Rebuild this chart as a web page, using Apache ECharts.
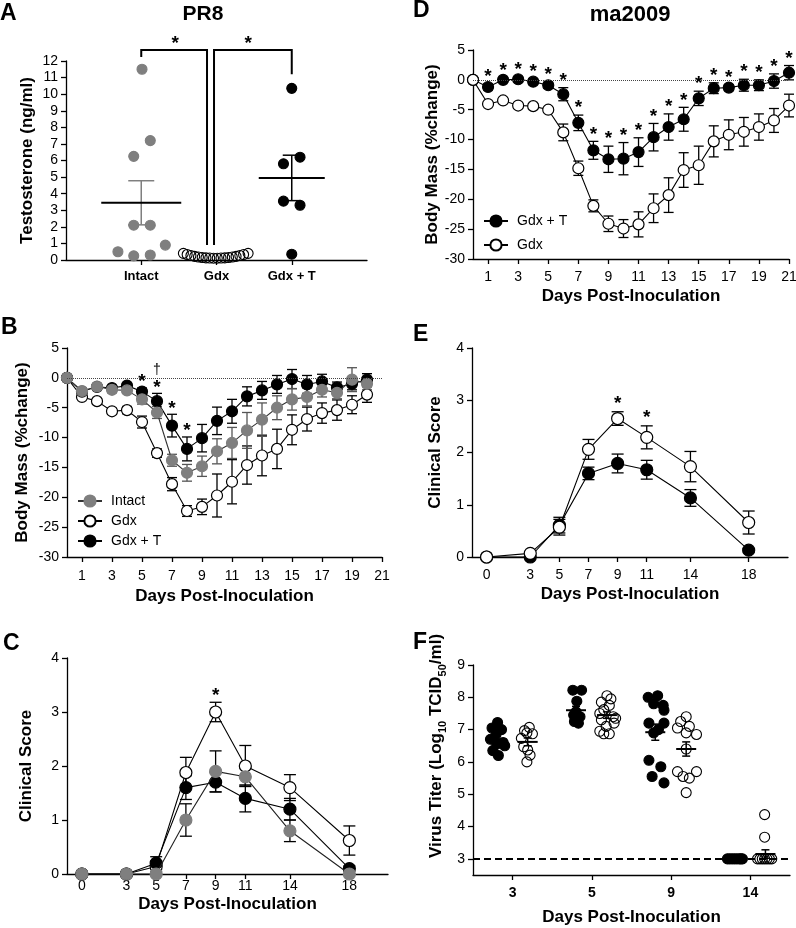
<!DOCTYPE html>
<html><head><meta charset="utf-8">
<script src="https://cdn.jsdelivr.net/npm/echarts@6/dist/echarts.min.js"></script>
<style>html,body{margin:0;padding:0;background:#fff;overflow:hidden}#c{width:796px;height:928px}</style>
</head><body><div id="c"></div>
<script>
// ---------------- DATA ----------------
// Panel A (PR8 testosterone)
const aCategories = ['Intact', 'Gdx', 'Gdx + T'];
const aIntact = [11.5, 7.2, 6.25, 2.1, 2.1, 0.5, 0.25, 0.3, 0.9];
const aIntactJitter = [0.01, 0.12, -0.1, -0.1, 0.12, -0.31, -0.1, 0.12, 0.32];
const aGdx = [0.4, 0.33, 0.27, 0.22, 0.18, 0.15, 0.13, 0.12, 0.11, 0.11, 0.12, 0.13, 0.15, 0.18, 0.22, 0.27, 0.33, 0.4];
const aGdxJitter = [-0.44, -0.39, -0.34, -0.29, -0.24, -0.19, -0.14, -0.09, -0.04, 0.01, 0.06, 0.11, 0.16, 0.21, 0.26, 0.31, 0.36, 0.42];
const aGdxT = [10.35, 5.8, 6.2, 3.55, 3.3, 0.35];
const aGdxTJitter = [0, -0.11, 0.11, -0.11, 0.11, 0];
const aMeanIntact = 3.45, aSemIntact = 1.33;
const aMeanGdxT = 4.95, aSemGdxT = 1.37;
const aBracketX1 = [1, 1.967], aBracketX2 = [1.874, 3];
const aBracketTop = 12.66, aBracketDrop1 = [12.24, 0.9], aBracketDrop2 = [0.9, 11.2];
const aStarX = [1.45, 2.42], aStarY = 13.27;

// Panel B (PR8 body mass)
const bDays = [0,1,2,3,4,5,6,7,8,9,10,11,12,13,14,15,16,17,18,19,20];
const bIntact = [0,-2.2,-1.45,-2.0,-2.1,-3.6,-5.8,-13.8,-15.9,-14.8,-12.3,-10.9,-8.8,-7.0,-5.0,-3.6,-3.2,-2.0,-2.5,-0.3,-1.0];
const bIntactErr = [0,0.5,0.5,0.5,0.5,0.8,1.0,1.0,1.4,1.7,2.1,2.6,3.0,2.8,2.0,1.8,1.5,1.2,1.0,2.0,1.0];
const bGdx = [0,-3.2,-3.9,-5.6,-5.4,-7.4,-12.6,-17.8,-22.3,-21.6,-19.7,-17.4,-14.6,-13.0,-11.9,-8.7,-6.9,-5.9,-5.4,-4.5,-2.8];
const bGdxErr = [0,0.4,0.4,0.5,0.6,1.0,0.7,1.1,0.9,1.3,3.6,3.7,3.2,3.4,3.3,2.5,2.0,1.7,1.7,1.5,1.3];
const bGdxT = [0,-2.3,-1.5,-1.7,-1.3,-2.3,-3.9,-8.0,-11.9,-10.1,-7.2,-5.6,-3.1,-2.1,-1.1,-0.2,-1.1,-0.6,-1.6,-1.0,-0.3];
const bGdxTErr = [0,0.4,0.4,0.4,0.4,0.6,1.3,1.9,2.0,2.3,2.3,2.0,1.6,1.5,1.5,1.6,1.5,1.2,0.9,1.0,1.0];
const bTicks = [1,3,5,7,9,11,13,15,17,19,21];
const bStarDays = [5,6,7,8];
const bDaggerDays = [6];

// Panel C (PR8 clinical score)
const cDays = [0,3,5,7,9,11,14,18];
const cIntact = [0,0,0,1.0,1.9,1.8,0.8,0];
const cIntactErr = [0,0,0,0.3,0.38,0.17,0.2,0];
const cGdx = [0,0,0.14,1.88,3.0,2.0,1.6,0.62];
const cGdxErr = [0,0,0.1,0.28,0.18,0.38,0.24,0.27];
const cGdxT = [0,0,0.2,1.6,1.7,1.4,1.2,0.1];
const cGdxTErr = [0,0,0.12,0.22,0.18,0.25,0.2,0.05];
const cStarDays = [9];

// Panel D (ma2009 body mass)
const dDays = [0,1,2,3,4,5,6,7,8,9,10,11,12,13,14,15,16,17,18,19,20,21];
const dGdxT = [0,-1.2,0,0.1,-0.3,-0.9,-2.4,-7.2,-11.8,-13.3,-13.2,-12.1,-9.6,-7.9,-6.6,-3.1,-1.4,-1.3,-0.9,-0.9,-0.2,1.2];
const dGdxTErr = [0,0.5,0.4,0.4,0.5,0.5,1.1,1.3,1.5,2.2,2.7,2.4,2.3,2.2,2.0,1.2,0.9,0.5,1.0,0.9,1.2,1.2];
const dGdx = [0,-4.05,-3.45,-4.3,-4.4,-5.0,-8.8,-14.8,-21.1,-24.1,-24.9,-24.2,-21.5,-19.3,-15.1,-14.3,-10.3,-9.2,-8.7,-7.9,-6.8,-4.3];
const dGdxErr = [0,0.3,0.3,0.4,0.4,0.4,1.4,1.2,1.0,1.3,1.5,2.1,2.4,2.9,2.9,3.2,2.6,2.5,2.4,2.2,2.0,1.9];
const dTicks = [1,3,5,7,9,11,13,15,17,19,21];
const dStarDays = [1,2,3,4,5,6,7,8,9,10,11,12,13,14,15,16,17,18,19,20,21];

// Panel E (ma2009 clinical score)
const eDays = [0,3,5,7,9,11,14,18];
const eGdx = [0,0.07,0.57,2.06,2.65,2.29,1.73,0.66];
const eGdxErr = [0,0,0.15,0.19,0.13,0.22,0.29,0.22];
const eGdxT = [0,0,0.61,1.6,1.79,1.67,1.13,0.13];
const eGdxTErr = [0,0,0.15,0.12,0.18,0.18,0.16,0.03];
const eStarDays = [9, 11];

// Panel F (virus titer)
const fDays = ['3', '5', '9', '14'];
const fGdxT = [
  [7.22, 7.05, 7.0, 6.85, 6.7, 6.6, 6.55, 6.5, 6.35, 6.2],
  [8.22, 8.22, 7.88, 7.55, 7.45, 7.4, 7.3, 7.25, 7.2],
  [8.05, 8.0, 7.8, 7.75, 7.6, 7.2, 7.2, 7.0, 6.9, 6.05, 5.85, 5.55, 5.35],
  [3, 3, 3, 3, 3, 3, 3, 3]
];
const fGdxTJitter = [
  [-0.19, -0.26, -0.14, -0.21, -0.28, -0.12, -0.2, -0.1, -0.25, -0.18],
  [-0.24, -0.13, -0.19, -0.2, -0.23, -0.15, -0.19, -0.22, -0.17],
  [-0.17, -0.29, -0.22, -0.1, -0.09, -0.28, -0.09, -0.16, -0.22, -0.28, -0.13, -0.24, -0.09],
  [-0.29, -0.26, -0.23, -0.2, -0.17, -0.14, -0.12, -0.1]
];
const fGdx = [
  [7.07, 6.97, 6.9, 6.87, 6.73, 6.47, 6.37, 6.21, 6.0],
  [8.05, 7.95, 7.85, 7.75, 7.62, 7.5, 7.4, 7.35, 7.3, 7.2, 7.1, 6.95, 6.87, 6.87],
  [7.4, 7.25, 7.1, 7.05, 6.9, 6.85, 6.4, 5.7, 5.7, 5.55, 5.5, 5.05],
  [4.37, 3.67, 3, 3, 3, 3, 3, 3, 3]
];
const fGdxJitter = [
  [0.21, 0.15, 0.18, 0.25, 0.11, 0.14, 0.19, 0.22, 0.18],
  [0.19, 0.24, 0.12, 0.22, 0.15, 0.1, 0.27, 0.3, 0.12, 0.28, 0.18, 0.1, 0.15, 0.22],
  [0.19, 0.12, 0.23, 0.08, 0.19, 0.32, 0.19, 0.08, 0.32, 0.15, 0.23, 0.19],
  [0.18, 0.18, 0.09, 0.12, 0.15, 0.18, 0.21, 0.24, 0.27]
];
const fGdxTMean = [6.7, 7.6, 6.92, 3.0], fGdxTSem = [0.1, 0.12, 0.25, 0];
const fGdxMean = [6.62, 7.45, 6.4, 3.15], fGdxSem = [0.12, 0.1, 0.22, 0.13];
const fLimit = 3;
const fYTicks = [3, 4, 5, 6, 7, 8, 9];

// ---------------- STYLE / HELPERS ----------------
const FONT = '"Liberation Sans", Arial, Helvetica, sans-serif';
const GRAY = '#7f7f7f';
const chart = echarts.init(document.getElementById('c'), null, {renderer: 'canvas'});

function xAx(grid, o) {
  return Object.assign({
    gridIndex: grid, type: 'value',
    axisLine: {show: true, onZero: false, lineStyle: {color: '#000', width: 1.3}},
    axisTick: {show: true, length: 5, lineStyle: {color: '#000', width: 1.3}},
    splitLine: {show: false},
    nameLocation: 'middle',
    nameTextStyle: {color: '#000', fontFamily: FONT, fontSize: 17, fontWeight: 'bold'}
  }, o);
}
function yAx(grid, o) {
  return Object.assign({
    gridIndex: grid, type: 'value',
    axisLine: {show: true, onZero: false, lineStyle: {color: '#000', width: 1.3}},
    axisTick: {show: true, length: 5, lineStyle: {color: '#000', width: 1.3}},
    splitLine: {show: false},
    nameLocation: 'middle', nameRotate: 90,
    nameTextStyle: {color: '#000', fontFamily: FONT, fontSize: 17, fontWeight: 'bold'}
  }, o);
}
function lbl(o) { return Object.assign({color: '#000', fontFamily: FONT, fontSize: 14}, o); }

function lineS(name, idx, xs, ys, fill, border, lineColor, z, size) {
  return {
    type: 'line', name, xAxisIndex: idx, yAxisIndex: idx, z,
    data: xs.map((x, i) => [x, ys[i]]),
    symbol: 'circle', symbolSize: size, showAllSymbol: true,
    itemStyle: {color: fill, borderColor: border, borderWidth: 1.2, opacity: 1},
    lineStyle: {color: lineColor, width: 1.1},
    emphasis: {disabled: true}, silent: true
  };
}
function errS(idx, xs, ys, es, color, cap) {
  const data = [];
  xs.forEach((x, i) => { if (es[i] > 0) data.push([x, ys[i] - es[i], ys[i] + es[i]]); });
  return {
    type: 'custom', xAxisIndex: idx, yAxisIndex: idx, z: 1, silent: true, data,
    encode: {x: 0, y: [1, 2]},
    renderItem: (p, api) => {
      const lo = api.coord([api.value(0), api.value(1)]);
      const hi = api.coord([api.value(0), api.value(2)]);
      const st = {stroke: color, lineWidth: 1.3};
      return {type: 'group', children: [
        {type: 'line', shape: {x1: lo[0], y1: lo[1], x2: hi[0], y2: hi[1]}, style: st},
        {type: 'line', shape: {x1: lo[0] - cap, y1: lo[1], x2: lo[0] + cap, y2: lo[1]}, style: st},
        {type: 'line', shape: {x1: hi[0] - cap, y1: hi[1], x2: hi[0] + cap, y2: hi[1]}, style: st}
      ]};
    }
  };
}
function textS(idx, pts, text, pxUp, font) {
  return {
    type: 'custom', xAxisIndex: idx, yAxisIndex: idx, z: 6, silent: true, data: pts,
    encode: {x: 0, y: 1},
    renderItem: (p, api) => {
      const c = api.coord([api.value(0), api.value(1)]);
      return {type: 'text', x: c[0], y: c[1] - pxUp,
        style: {text, font, fill: '#000', align: 'center', verticalAlign: 'middle',
                textAlign: 'center', textVerticalAlign: 'middle'}};
    }
  };
}
function tops(days, xs, groups) {
  return days.map(d => {
    const i = xs.indexOf(d);
    return [d, Math.max(...groups.map(g => g[0][i] + g[1][i]))];
  });
}
function meanSemS(idx, centers, means, sems, halfW, cap, semColor, z) {
  return {
    type: 'custom', xAxisIndex: idx, yAxisIndex: idx, z, silent: true,
    data: centers.map((c, i) => [c, means[i], sems[i]]),
    encode: {x: 0, y: 1},
    renderItem: (p, api) => {
      const x = api.value(0), m = api.value(1), s = api.value(2);
      const cm = api.coord([x, m]);
      const ch = [];
      if (s > 0) {
        const lo = api.coord([x, m - s]), hi = api.coord([x, m + s]);
        const st = {stroke: semColor, lineWidth: 1.5};
        ch.push({type: 'line', shape: {x1: lo[0], y1: lo[1], x2: hi[0], y2: hi[1]}, style: st});
        ch.push({type: 'line', shape: {x1: lo[0] - cap, y1: lo[1], x2: lo[0] + cap, y2: lo[1]}, style: st});
        ch.push({type: 'line', shape: {x1: hi[0] - cap, y1: hi[1], x2: hi[0] + cap, y2: hi[1]}, style: st});
      }
      ch.push({type: 'line', shape: {x1: cm[0] - halfW, y1: cm[1], x2: cm[0] + halfW, y2: cm[1]},
               style: {stroke: '#000', lineWidth: 2}});
      return {type: 'group', children: ch};
    }
  };
}
function scatterS(name, idx, pts, fill, border, size, z) {
  return {
    type: 'scatter', name, xAxisIndex: idx, yAxisIndex: idx, z, silent: true,
    data: pts, symbolSize: size,
    itemStyle: {color: fill, borderColor: border, borderWidth: 1.1, opacity: 1},
    emphasis: {disabled: true}
  };
}
const STAR_FONT = 'bold 19px ' + FONT;

// ---------------- BUILD ----------------
const grids = [
  {left: 66, top: 61, width: 301, height: 199},
  {left: 67, top: 348, width: 315, height: 209},
  {left: 67, top: 658, width: 321, height: 216},
  {left: 473, top: 50, width: 316, height: 209},
  {left: 472, top: 348, width: 316, height: 209},
  {left: 473, top: 665, width: 317, height: 210}
].map(g => Object.assign({containLabel: false, outerBoundsMode: 'none'}, g));

const xAxes = [
  xAx(0, {min: 0, max: 4,
    axisTick: {show: true, length: 5, customValues: [1, 2, 3], lineStyle: {color: '#000', width: 1.3}},
    axisLabel: lbl({customValues: [1, 2, 3], formatter: v => aCategories[Math.round(v) - 1], fontWeight: 'bold', fontSize: 13, margin: 10})}),
  xAx(1, {min: 0, max: 21, name: 'Days Post-Inoculation', nameGap: 31,
    axisTick: {show: true, length: 5, customValues: bTicks, lineStyle: {color: '#000', width: 1.3}},
    axisLabel: lbl({customValues: bTicks, margin: 12})}),
  xAx(2, {min: -1, max: 20.6, name: 'Days Post-Inoculation', nameGap: 22,
    axisTick: {show: true, length: 5, customValues: cDays, lineStyle: {color: '#000', width: 1.3}},
    axisLabel: lbl({customValues: cDays, margin: 5})}),
  xAx(3, {min: 0, max: 21, name: 'Days Post-Inoculation', nameGap: 29,
    axisTick: {show: true, length: 5, customValues: dTicks, lineStyle: {color: '#000', width: 1.3}},
    axisLabel: lbl({customValues: dTicks, margin: 11})}),
  xAx(4, {min: -1, max: 20.7, name: 'Days Post-Inoculation', nameGap: 29,
    axisTick: {show: true, length: 5, customValues: eDays, lineStyle: {color: '#000', width: 1.3}},
    axisLabel: lbl({customValues: eDays, margin: 11})}),
  xAx(5, {min: 0.5, max: 4.5, name: 'Days Post-Inoculation', nameGap: 34,
    axisTick: {show: true, length: 5, customValues: [1, 2, 3, 4], lineStyle: {color: '#000', width: 1.3}},
    axisLabel: lbl({customValues: [1, 2, 3, 4], formatter: v => fDays[Math.round(v) - 1], fontWeight: 'bold', margin: 11})})
];

const yAxes = [
  yAx(0, {min: 0, max: 12, interval: 1, name: 'Testosterone (ng/ml)', nameGap: 30, axisLabel: lbl({margin: 8})}),
  yAx(1, {min: -30, max: 5, interval: 5, name: 'Body Mass (%change)', nameGap: 36, axisLabel: lbl({margin: 8})}),
  yAx(2, {min: 0, max: 4, interval: 1, name: 'Clinical Score', nameGap: 32, axisLabel: lbl({margin: 8})}),
  yAx(3, {min: -30, max: 5, interval: 5, name: 'Body Mass (%change)', nameGap: 32, axisLabel: lbl({margin: 8})}),
  yAx(4, {min: 0, max: 4, interval: 1, name: 'Clinical Score', nameGap: 28, axisLabel: lbl({margin: 8})}),
  yAx(5, {min: 2.5, max: 9, name: 'Virus Titer (Log{s|10} TCID{s|50}/ml)', nameGap: 25,
    nameTextStyle: {color: '#000', fontFamily: FONT, fontSize: 17, fontWeight: 'bold', lineHeight: 24, padding: [0, 0, 0, 48],
      rich: {s: {fontFamily: FONT, fontSize: 11, fontWeight: 'bold', color: '#000', lineHeight: 15, verticalAlign: 'bottom'}}},
    axisTick: {show: true, length: 5, customValues: fYTicks, lineStyle: {color: '#000', width: 1.3}},
    axisLabel: lbl({customValues: fYTicks, margin: 8})})
];

const series = [];
// ---- A ----
series.push(scatterS('A Intact', 0, aIntact.map((v, i) => [1 + aIntactJitter[i], v]), GRAY, GRAY, 10, 2));
series.push(scatterS('A Gdx', 0, aGdx.map((v, i) => [2 + aGdxJitter[i], v]), 'rgba(255,255,255,0)', '#000', 10, 2));
series.push(scatterS('A Gdx + T', 0, aGdxT.map((v, i) => [3 + aGdxTJitter[i], v]), '#000', '#000', 10, 2));
series.push(meanSemS(0, [1], [aMeanIntact], [aSemIntact], 40, 13, GRAY, 3));
series.push(meanSemS(0, [3], [aMeanGdxT], [aSemGdxT], 33, 9, '#000', 3));
series.push({
  type: 'custom', xAxisIndex: 0, yAxisIndex: 0, z: 5, silent: true,
  data: aBracketX1.map((x, i) => [x, aBracketX2[i], aBracketTop, aBracketDrop1[i], aBracketDrop2[i]]),
  encode: {x: [0, 1], y: [2, 3, 4]},
  renderItem: (p, api) => {
    const x1 = api.value(0), x2 = api.value(1), t = api.value(2);
    const pts = [api.coord([x1, api.value(3)]), api.coord([x1, t]), api.coord([x2, t]), api.coord([x2, api.value(4)])];
    return {type: 'polyline', shape: {points: pts}, style: {stroke: '#000', lineWidth: 2, fill: null}};
  }
});
series.push(textS(0, aStarX.map(x => [x, aStarY]), '*', -4, STAR_FONT));

// ---- B ----
series.push(errS(1, bDays, bGdx, bGdxErr, '#000', 5));
series.push(errS(1, bDays, bGdxT, bGdxTErr, '#000', 5));
series.push(errS(1, bDays, bIntact, bIntactErr, '#555', 5));
const bGdxLine = lineS('Gdx', 1, bDays, bGdx, '#fff', '#000', '#000', 2, 11);
bGdxLine.markLine = {silent: true, symbol: 'none', label: {show: false}, animation: false,
  lineStyle: {type: 'dotted', color: '#444', width: 1}, data: [{yAxis: 0}]};
series.push(bGdxLine);
series.push(lineS('Gdx + T', 1, bDays, bGdxT, '#000', '#000', '#000', 3, 11));
series.push(lineS('Intact', 1, bDays, bIntact, GRAY, GRAY, '#333', 4, 11));
const bTops = tops(bStarDays, bDays, [[bIntact, bIntactErr], [bGdx, bGdxErr], [bGdxT, bGdxTErr]]);
series.push(textS(1, bTops, '*', 6, STAR_FONT));
series.push(textS(1, tops(bDaggerDays, bDays, [[bIntact, bIntactErr], [bGdx, bGdxErr], [bGdxT, bGdxTErr]]), '\u2020', 23, '14px ' + FONT));

// ---- C ----
series.push(errS(2, cDays, cGdx, cGdxErr, '#000', 6));
series.push(errS(2, cDays, cGdxT, cGdxTErr, '#000', 6));
series.push(errS(2, cDays, cIntact, cIntactErr, '#000', 6));
series.push(lineS('Gdx', 2, cDays, cGdx, '#fff', '#000', '#000', 2, 12));
series.push(lineS('Gdx + T', 2, cDays, cGdxT, '#000', '#000', '#000', 3, 12));
series.push(lineS('Intact', 2, cDays, cIntact, GRAY, GRAY, '#222', 4, 12));
series.push(textS(2, tops(cStarDays, cDays, [[cIntact, cIntactErr], [cGdx, cGdxErr], [cGdxT, cGdxTErr]]), '*', 7, STAR_FONT));

// ---- D ----
series.push(errS(3, dDays, dGdxT, dGdxTErr, '#000', 5));
series.push(errS(3, dDays, dGdx, dGdxErr, '#000', 5));
const dGdxTLine = lineS('Gdx + T', 3, dDays, dGdxT, '#000', '#000', '#000', 2, 11);
dGdxTLine.markLine = {silent: true, symbol: 'none', label: {show: false}, animation: false,
  lineStyle: {type: 'dotted', color: '#444', width: 1}, data: [{yAxis: 0}]};
series.push(dGdxTLine);
series.push(lineS('Gdx', 3, dDays, dGdx, '#fff', '#000', '#000', 3, 11));
series.push(textS(3, tops(dStarDays, dDays, [[dGdxT, dGdxTErr]]), '*', 7, STAR_FONT));

// ---- E ----
series.push(errS(4, eDays, eGdxT, eGdxTErr, '#000', 6));
series.push(errS(4, eDays, eGdx, eGdxErr, '#000', 6));
series.push(lineS('Gdx + T', 4, eDays, eGdxT, '#000', '#000', '#000', 2, 12));
series.push(lineS('Gdx', 4, eDays, eGdx, '#fff', '#000', '#000', 3, 12));
series.push(textS(4, tops(eStarDays, eDays, [[eGdx, eGdxErr], [eGdxT, eGdxTErr]]), '*', 8, STAR_FONT));

// ---- F ----
const fTPts = [], fGPts = [];
fGdxT.forEach((arr, d) => arr.forEach((v, i) => fTPts.push([d + 1 + fGdxTJitter[d][i], v])));
fGdx.forEach((arr, d) => arr.forEach((v, i) => fGPts.push([d + 1 + fGdxJitter[d][i], v])));
const fT = scatterS('F Gdx + T', 5, fTPts, '#000', '#000', 10, 2);
fT.markLine = {silent: true, symbol: 'none', label: {show: false}, animation: false,
  lineStyle: {type: [7, 4], color: '#000', width: 2}, data: [{yAxis: fLimit}]};
series.push(fT);
series.push(scatterS('F Gdx', 5, fGPts, 'rgba(255,255,255,0)', '#000', 10, 2));
series.push(meanSemS(5, fDays.map((d, i) => i + 1 - 0.2), fGdxTMean, fGdxTSem, 10, 4, '#000', 3));
series.push(meanSemS(5, fDays.map((d, i) => i + 1 + 0.19), fGdxMean, fGdxSem, 10, 4, '#000', 3));

// ---------------- LABELS ----------------
function gText(text, x, y, size, align) {
  return {type: 'text', x, y, silent: true,
    style: {text, font: 'bold ' + size + 'px ' + FONT, fill: '#000', align: align || 'left', verticalAlign: 'middle',
            textAlign: align || 'left', textVerticalAlign: 'middle'}};
}
const legendBase = {orient: 'vertical', itemWidth: 24, itemHeight: 14, padding: 0, selectedMode: false,
  textStyle: {fontSize: 14, fontFamily: FONT, color: '#000', padding: [0, 0, 0, 4]}};

chart.setOption({
  animation: false,
  grid: grids,
  xAxis: xAxes,
  yAxis: yAxes,
  legend: [
    Object.assign({}, legendBase, {data: ['Intact', 'Gdx', 'Gdx + T'], left: 77, top: 494, itemGap: 6}),
    Object.assign({}, legendBase, {data: ['Gdx + T', 'Gdx'], left: 483, top: 214, itemGap: 10})
  ],
  graphic: {elements: [
    gText('A', 0, 14, 23), gText('PR8', 203, 14, 21, 'center'),
    gText('B', 1, 328, 23), gText('C', 3, 644, 23),
    gText('D', 413, 11, 23), gText('ma2009', 630, 15, 22, 'center'),
    gText('E', 413, 335, 23), gText('F', 413, 643, 23)
  ]},
  series
});
</script>
</body></html>
